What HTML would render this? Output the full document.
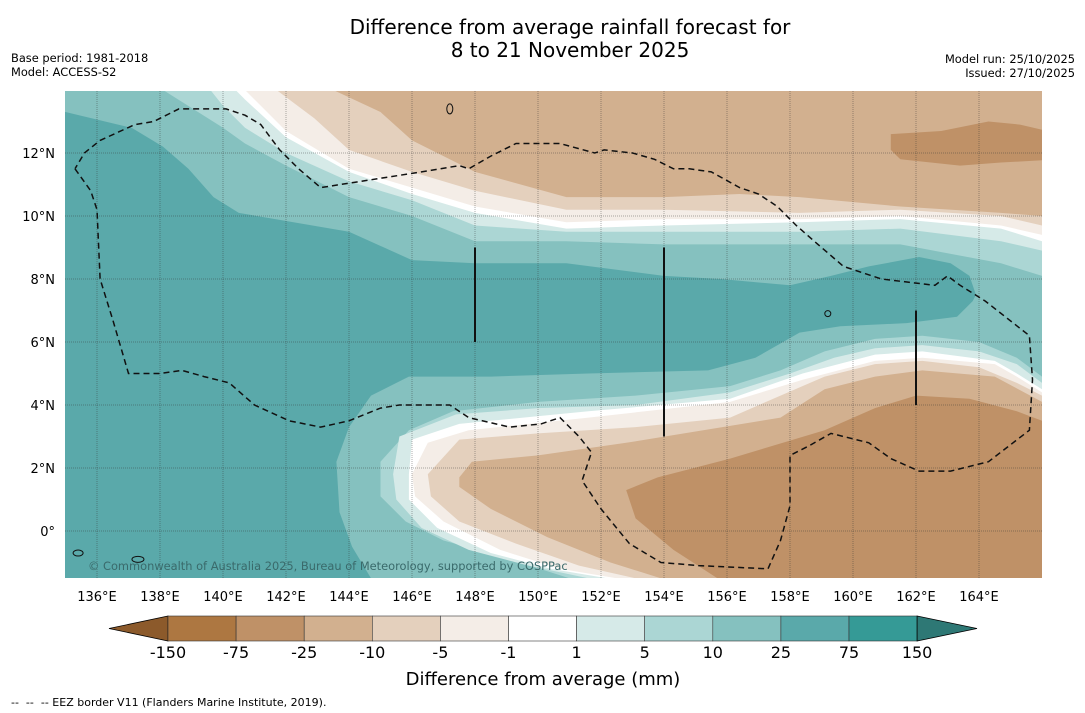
<!DOCTYPE html>
<html><head><meta charset="utf-8"><style>
html,body{margin:0;padding:0;background:#fff;}
svg{display:block;font-family:"DejaVu Sans","Liberation Sans",sans-serif;}
</style></head><body>
<svg id="chart" width="1085" height="713" viewBox="0 0 1085 713" xmlns="http://www.w3.org/2000/svg">
<rect x="0" y="0" width="1085" height="713" fill="#fff"/>
<text x="570" y="34" font-size="20" text-anchor="middle" fill="#000">Difference from average rainfall forecast for</text>
<text x="570" y="57" font-size="20" text-anchor="middle" fill="#000">8 to 21 November 2025</text>
<text x="11" y="62" font-size="11.4" fill="#000">Base period: 1981-2018</text>
<text x="11" y="76" font-size="11.4" fill="#000">Model: ACCESS-S2</text>
<text x="1075" y="63" font-size="11.4" text-anchor="end" fill="#000">Model run: 25/10/2025</text>
<text x="1075" y="77" font-size="11.4" text-anchor="end" fill="#000">Issued: 27/10/2025</text>
<defs><clipPath id="mapclip"><rect x="65" y="91" width="977" height="487"/></clipPath></defs>
<g id="map" clip-path="url(#mapclip)"></g>
<g id="axes"></g>
<g id="cbar"></g>
<text x="543" y="685" font-size="18" text-anchor="middle" fill="#000">Difference from average (mm)</text>
<text x="11" y="706" font-size="11" fill="#000" xml:space="preserve">--  --  -- EEZ border V11 (Flanders Marine Institute, 2019).</text>
</svg>
<script>
// ---- data (lon, lat in degrees) ----
const lonTicks = [136,138,140,142,144,146,148,150,152,154,156,158,160,162,164];
const latTicks = [0,2,4,6,8,10,12];
const cbarLevels = ["-150","-75","-25","-10","-5","-1","1","5","10","25","75","150"];
const cbarColors = ["#ad7741","#bf9167","#d2b08f","#e4d0bd","#f4ede7","#ffffff","#d6eae8","#abd6d4","#85c1bf","#5aa9aa","#359a96"];
const cbarLowColor = "#8c5a2b";
const cbarHighColor = "#2e7875";

const regionDark = [[134.5,13.3],[135.0,13.3],[137.1,12.8],[138.1,12.2],[138.9,11.5],[139.7,10.6],[140.5,10.1],[144.0,9.5],[146.0,8.6],[148.0,8.5],[150.9,8.5],[154.0,8.1],[155.8,8.0],[158.0,7.8],[159.3,8.1],[160.5,8.4],[162.1,8.7],[163.1,8.5],[163.7,8.1],[163.9,7.5],[163.8,7.3],[163.3,6.8],[161.7,6.6],[159.6,6.5],[158.3,6.3],[156.9,5.5],[155.4,5.1],[151.6,5.0],[148.5,4.9],[145.9,4.9],[144.7,4.3],[144.0,3.3],[143.6,2.2],[143.7,0.6],[144.1,-0.5],[144.7,-1.5],[144.9,-2.2],[134.5,-2.2]];

const north10 = [[138.1,14.0],[140.0,12.8],[140.7,12.3],[142.0,11.6],[144.0,10.6],[146.0,10.0],[148.0,9.2],[150.9,9.2],[154.0,9.1],[158.3,9.1],[161.5,9.1],[164.7,8.5],[166.0,8.1]];
const north5 = [[139.6,14.0],[140.0,13.5],[140.7,12.8],[142.0,12.0],[144.0,11.1],[146.0,10.5],[148.0,9.7],[150.9,9.5],[154.0,9.5],[158.3,9.5],[161.5,9.6],[164.7,9.2],[166.0,8.9]];
const north1 = [[140.4,14.0],[140.7,13.7],[142.0,12.5],[144.0,11.4],[146.0,10.7],[148.0,10.1],[150.9,9.6],[154.0,9.7],[158.3,9.8],[161.5,9.9],[164.7,9.6],[166.0,9.2]];
const northM1 = [[140.7,14.0],[141.2,13.5],[142.0,12.7],[144.0,11.5],[146.0,10.9],[148.0,10.3],[150.9,9.8],[154.0,9.9],[158.3,9.9],[161.5,10.0],[164.7,9.7],[166.0,9.4]];
const northM5 = [[141.7,14.0],[142.9,13.1],[144.0,12.1],[146.0,11.4],[148.0,10.8],[150.9,10.2],[154.0,10.2],[158.3,10.1],[161.5,10.2],[164.7,10.0],[166.0,9.7]];
const northM10 = [[143.5,14.0],[145.0,13.3],[146.0,12.4],[148.0,11.4],[150.9,10.6],[154.0,10.6],[156.4,10.7],[158.3,10.6],[161.5,10.3],[164.7,10.1],[166.0,10.0]];
const northM25 = [[161.2,12.6],[162.8,12.7],[164.3,13.0],[165.3,12.9],[166.6,12.6],[166.6,11.8],[164.7,11.7],[163.4,11.6],[161.5,11.8],[161.2,12.1]];

const south10 = [[166.0,4.9],[165.2,5.5],[164.0,6.0],[162.2,6.2],[160.7,6.1],[159.1,5.7],[157.7,5.1],[156.1,4.6],[153.1,4.3],[150.0,4.1],[147.3,3.8],[145.9,3.2],[145.0,2.2],[145.0,1.1],[145.8,0.3],[147.0,-0.3],[148.8,-0.8],[151.0,-1.5]];
const south5 = [[166.0,4.7],[165.2,5.3],[164.0,5.7],[162.2,5.9],[160.7,5.8],[159.4,5.5],[158.0,5.0],[156.1,4.4],[153.1,4.0],[150.0,3.9],[147.4,3.7],[145.6,3.0],[145.4,1.8],[145.5,1.0],[146.3,0.1],[147.8,-0.6],[149.7,-1.1],[151.6,-1.5]];
const south1 = [[166.0,4.5],[165.2,5.0],[164.5,5.4],[162.2,5.7],[160.7,5.6],[158.4,5.0],[156.1,4.2],[151.6,3.8],[147.5,3.4],[146.0,2.9],[145.9,1.8],[145.9,1.0],[146.8,0.1],[148.5,-0.7],[150.4,-1.2],[152.2,-1.5]];
const southM1 = [[166.0,4.4],[165.2,4.9],[164.5,5.3],[162.2,5.5],[160.7,5.4],[158.4,4.8],[156.1,4.1],[151.6,3.6],[147.8,3.2],[146.5,2.8],[146.0,1.8],[146.1,1.1],[147.0,0.3],[148.8,-0.6],[150.7,-1.2],[152.5,-1.5]];
const southM5 = [[166.0,4.3],[165.2,4.7],[164.0,5.2],[162.2,5.4],[160.7,5.3],[159.1,4.9],[157.7,4.3],[156.1,3.6],[153.1,3.3],[150.0,3.1],[147.5,2.9],[146.5,1.8],[146.6,1.1],[147.5,0.3],[149.3,-0.4],[151.3,-1.1],[153.1,-1.5]];
const southM10 = [[166.0,4.1],[164.5,4.9],[162.2,5.1],[160.7,4.9],[159.1,4.5],[157.7,3.6],[152.8,2.8],[150.0,2.4],[147.9,2.2],[147.5,1.7],[147.5,1.4],[148.5,0.7],[150.3,-0.2],[152.3,-1.0],[153.9,-1.5]];
const southM25 = [[166.0,3.5],[165.2,3.8],[163.7,4.2],[162.0,4.3],[160.7,3.9],[159.1,3.2],[156.1,2.3],[153.8,1.7],[152.8,1.3],[153.1,0.4],[154.3,-0.6],[155.7,-1.5]];

const eezBorder = [[135.3,11.5],[135.8,10.8],[136.0,10.2],[136.1,8.0],[136.5,6.7],[137.0,5.0],[138.0,5.0],[138.7,5.1],[139.4,4.9],[140.2,4.7],[141.0,4.0],[142.1,3.5],[143.1,3.3],[144.0,3.5],[145.0,3.9],[145.6,4.0],[147.2,4.0],[147.8,3.6],[149.1,3.3],[150.1,3.4],[150.7,3.6],[151.3,3.0],[151.7,2.5],[151.4,1.6],[152.0,0.7],[152.9,-0.4],[153.9,-1.0],[155.1,-1.1],[157.3,-1.2],[157.7,-0.3],[158.0,0.8],[158.0,2.4],[158.6,2.7],[159.3,3.1],[160.5,2.8],[161.2,2.3],[162.1,1.9],[163.1,1.9],[164.3,2.2],[165.6,3.2],[165.7,4.8],[165.6,6.2],[164.2,7.3],[163.4,7.8],[163.0,8.1],[162.6,7.8],[160.9,8.0],[159.7,8.4],[159.0,9.0],[158.2,9.7],[157.6,10.3],[157.0,10.7],[156.4,10.9],[155.5,11.4],[154.8,11.5],[154.3,11.5],[153.7,11.8],[153.0,12.0],[152.1,12.1],[151.8,12.0],[150.7,12.3],[150.1,12.3],[149.3,12.3],[148.5,11.9],[147.8,11.5],[147.5,11.6],[146.3,11.4],[143.1,10.9],[142.4,11.5],[141.8,12.1],[141.2,12.9],[140.7,13.2],[140.1,13.4],[139.3,13.4],[138.6,13.4],[137.8,13.0],[137.2,12.9],[136.1,12.4],[135.6,12.0],[135.3,11.5]];
const blackLines = [[148,9.0,6.0],[154,9.0,3.0],[162,7.0,4.0]];

// ---- axis functions ----
const X = lon => 97 + (lon - 136) * 31.5;
const Y = lat => 531 - lat * 31.5;
const NS = "http://www.w3.org/2000/svg";
function mk(tag, attrs, parent){ const e=document.createElementNS(NS,tag); for(const k in attrs) e.setAttribute(k,attrs[k]); parent.appendChild(e); return e; }
const pts = arr => arr.map(p => X(p[0]).toFixed(1)+","+Y(p[1]).toFixed(1)).join(" ");
const map = document.getElementById("map");

let bg = mk("rect",{x:65,y:91,width:977,height:487,fill:"#85c1bf"},map);


let dk = mk("polygon",{points:pts(regionDark),fill:"#5aa9aa"},map);



function closeNorth(a){ const l=a[a.length-1]; return a.concat([[166.6,l[1]],[166.6,14.6],[a[0][0],14.6]]); }
function closeSouth(a){ const l=a[a.length-1]; return a.concat([[l[0],-2.2],[166.6,-2.2],[166.6,a[0][1]]]); }
const northSet = [[north10,"#abd6d4","north-band-5-10"],[north5,"#d6eae8","north-band-1-5"],[north1,"#ffffff","north-band-neutral"],[northM1,"#f4ede7","north-band-minus1-5"],[northM5,"#e4d0bd","north-band-minus5-10"],[northM10,"#d2b08f","north-band-minus10-25"]];
northSet.forEach(s=>{
  const p = mk("polygon",{points:pts(closeNorth(s[0])),fill:s[1]},map);
  
  
});
let nb = mk("polygon",{points:pts(northM25),fill:"#bf9167"},map);


const southSet = [[south10,"#abd6d4","south-band-5-10"],[south5,"#d6eae8","south-band-1-5"],[south1,"#ffffff","south-band-neutral"],[southM1,"#f4ede7","south-band-minus1-5"],[southM5,"#e4d0bd","south-band-minus5-10"],[southM10,"#d2b08f","south-band-minus10-25"],[southM25,"#bf9167","south-band-minus25-75"]];
southSet.forEach(s=>{
  const p = mk("polygon",{points:pts(closeSouth(s[0])),fill:s[1]},map);
  
  
});
// gridlines
lonTicks.forEach(l=>{
  const g = mk("line",{x1:X(l),x2:X(l),y1:91,y2:578,stroke:"#333","stroke-opacity":0.4,"stroke-width":1,"stroke-dasharray":"1,1"},map);
  
  
});
latTicks.forEach(l=>{
  const g = mk("line",{x1:65,x2:1042,y1:Y(l),y2:Y(l),stroke:"#333","stroke-opacity":0.4,"stroke-width":1,"stroke-dasharray":"1,1"},map);
  
  
});
// black lines
blackLines.forEach(b=>{
  const l = mk("line",{x1:X(b[0]),x2:X(b[0]),y1:Y(b[1]),y2:Y(b[2]),stroke:"#111","stroke-width":2},map);
  
  
});
// islands
[[147.2,13.4,3,5],[159.2,6.9,3,3],[137.3,-0.9,6,3],[135.4,-0.7,5,3]].forEach(s=>{
  const e = mk("ellipse",{cx:X(s[0]),cy:Y(s[1]),rx:s[2],ry:s[3],fill:"none",stroke:"#111","stroke-width":1},map);
  
  
});
// EEZ
let ez = mk("polyline",{points:pts(eezBorder),fill:"none",stroke:"#111","stroke-width":1.5,"stroke-dasharray":"6,4"},map);


let cp = mk("text",{x:88,y:570,"font-size":11.4,fill:"#3a6a6b"},map);
cp.textContent = "© Commonwealth of Australia 2025, Bureau of Meteorology, supported by COSPPac";



// axes labels
const axes = document.getElementById("axes");
lonTicks.forEach(l=>{
  const t = mk("text",{x:X(l),y:601,"font-size":13,"text-anchor":"middle",fill:"#000"},axes);
  t.textContent = l+"°E";
  
  
});
latTicks.forEach(l=>{
  const t = mk("text",{x:55,y:Y(l)+5,"font-size":13,"text-anchor":"end",fill:"#000"},axes);
  t.textContent = l===0 ? "0°" : l+"°N";
  
  
});

// colorbar
const cb = document.getElementById("cbar");
const cx0 = 168, cw = 68.1, cy0 = 616, ch = 25;
let lt = mk("polygon",{points:`${cx0},${cy0} 109,${cy0+ch/2} ${cx0},${cy0+ch}`,fill:cbarLowColor,stroke:"#000","stroke-width":0.8},cb);


cbarColors.forEach((c,i)=>{
  const r = mk("rect",{x:cx0+i*cw,y:cy0,width:cw,height:ch,fill:c,stroke:"#333","stroke-width":0.6},cb);
  
  
});
const cxe = cx0 + cbarColors.length*cw;
let rt = mk("polygon",{points:`${cxe},${cy0} 977,${cy0+ch/2} ${cxe},${cy0+ch}`,fill:cbarHighColor,stroke:"#000","stroke-width":0.8},cb);


cbarLevels.forEach((lv,i)=>{
  const t = mk("text",{x:cx0+i*cw,y:658,"font-size":16,"text-anchor":"middle",fill:"#000"},cb);
  t.textContent = lv;
  
  
});
</script>
</body></html>
